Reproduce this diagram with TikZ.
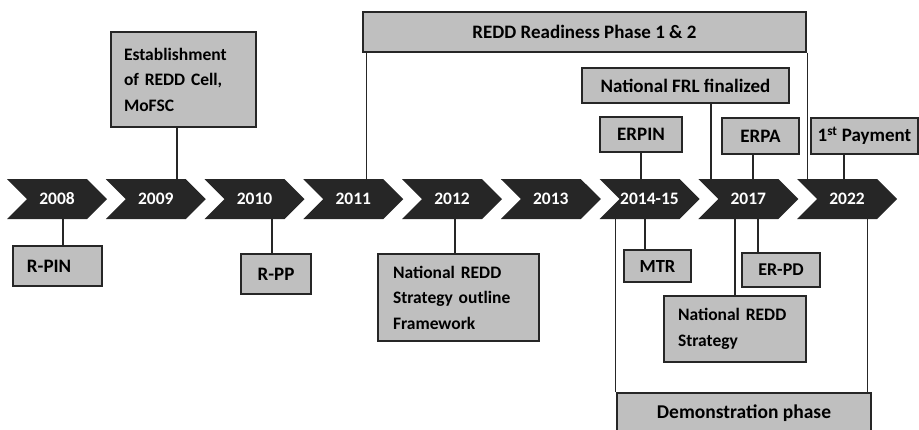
\documentclass[tikz,border=0pt]{standalone}
\usepackage{fontspec}
\setmainfont{Carlito}
\usepackage{tikz}
\usetikzlibrary{shapes.symbols}

\begin{document}
\begin{tikzpicture}[x=1pt,y=-1pt,node distance=98.75pt,
font=\fontsize{17.5}{26}\selectfont\bfseries,
yearArrow/.style={signal,signal to=east,signal from=west,
signal pointer angle=90,fill=black!85,text=white,
minimum width=100pt,minimum height=40pt,inner sep=0pt},
box/.style={draw=black!85,fill=black!25,line width=1.1pt,inner sep=0pt,
font=\fontsize{19}{26}\selectfont\bfseries},
textBox/.style={box,align=left,font=\fontsize{17.5}{25.5}\selectfont\bfseries},
link/.style={draw=black!85,line width=1.1pt}]
\useasboundingbox (0,0) rectangle (919,429);
\clip (0,0) rectangle (919,429);

\node (year2008) [yearArrow] at (57,199) {2008};
\node (year2009) [yearArrow, right of=year2008] {2009};
\node (year2010) [yearArrow, right of=year2009] {2010};
\node (year2011) [yearArrow, right of=year2010] {2011};
\node (year2012) [yearArrow, right of=year2011] {2012};
\node (year2013) [yearArrow, right of=year2012] {2013};
\node (year2014) [yearArrow, right of=year2013] {2014-15};
\node (year2017) [yearArrow, right of=year2014] {2017};
\node (year2022) [yearArrow, right of=year2017] {2022};

\node (reddCell) [textBox, text width=119pt, inner xsep=13pt,
minimum height=95pt] at (183.5,79.5)
{Establishment\\of REDD Cell,\\MoFSC};
\node (readinessPhase) [box, minimum width=443pt, minimum height=40pt]
at (584.5,32) {REDD Readiness Phase 1 \& 2};
\node (frlFinal) [box, minimum width=207pt, minimum height=35pt]
at (685.5,85.5) {National FRL finalized};
\node (erpin) [box, minimum width=82pt, minimum height=35pt]
at (641,134.5) {ERPIN};
\node (erpa) [box, minimum width=77pt, minimum height=36pt]
at (760.5,136) {ERPA};
\node (firstPayment) [box, minimum width=107pt, minimum height=36pt]
at (864.5,136) {1\textsuperscript{st} Payment};

\node (rPin) [box, text width=61pt, align=left, inner xsep=14pt,
minimum height=40pt] at (57.5,266) {R-PIN};
\node (rPp) [box, minimum width=70pt, minimum height=40pt]
at (276,274) {R-PP};
\node (strategyOutline) [textBox, text width=131pt, inner xsep=15pt,
minimum height=87pt] at (458.5,297.5)
{National REDD\\Strategy outline\\Framework};
\node (mtr) [box, minimum width=67pt, minimum height=32pt,
font=\fontsize{18.5}{26}\selectfont\bfseries] at (657.5,266) {MTR};
\node (erPd) [box, minimum width=78pt, minimum height=34pt,
font=\fontsize{18}{26}\selectfont\bfseries] at (781,270) {ER-PD};
\node (nationalStrategy) [textBox, text width=114pt, inner xsep=14pt,
minimum height=66pt] at (735,329) {National REDD\\Strategy};
\node (demoPhase) [box, minimum width=254pt, minimum height=40pt,
font=\fontsize{19.5}{26}\selectfont\bfseries] at (744,413) {Demonstration phase};

\draw[link] ([xshift=-6.5pt]reddCell.south)
-- ([xshift=-6.5pt]reddCell.south |- year2009.north);
\draw[link] ([xshift=4pt]readinessPhase.south west)
-- ([xshift=4pt]readinessPhase.south west |- year2011.north);
\draw[link] ([xshift=1pt]readinessPhase.south east)
-- ([xshift=1pt]readinessPhase.south east |- year2022.north);
\draw[link] ([xshift=25.5pt]frlFinal.south)
-- ([xshift=25.5pt]frlFinal.south |- year2017.north);
\draw[link] (erpin.south) -- (erpin.south |- year2014.north);
\draw[link] ([xshift=-7.5pt]erpa.south)
-- ([xshift=-7.5pt]erpa.south |- year2017.north);
\draw[link] ([xshift=-20.5pt]firstPayment.south)
-- ([xshift=-20.5pt]firstPayment.south |- year2022.north);

\draw[link] ([xshift=5.5pt]rPin.north) -- ([xshift=5.5pt]rPin.north |- year2008.south);
\draw[link] ([xshift=-4pt]rPp.north) -- ([xshift=-4pt]rPp.north |- year2010.south);
\draw[link] ([xshift=-3.5pt]strategyOutline.north)
-- ([xshift=-3.5pt]strategyOutline.north |- year2012.south);
\draw[link] ([xshift=-12.5pt]mtr.north) -- ([xshift=-12.5pt]mtr.north |- year2014.south);
\draw[link] ([xshift=-23pt]erPd.north) -- ([xshift=-23pt]erPd.north |- year2017.south);
\draw[link] (nationalStrategy.north) -- (nationalStrategy.north |- year2017.south);
\draw[link] ([xshift=-1pt]demoPhase.north west)
-- ([xshift=-1pt]demoPhase.north west |- year2014.south);
\draw[link] ([xshift=-4pt]demoPhase.north east)
-- ([xshift=-4pt]demoPhase.north east |- year2022.south);
\end{tikzpicture}
\end{document}
